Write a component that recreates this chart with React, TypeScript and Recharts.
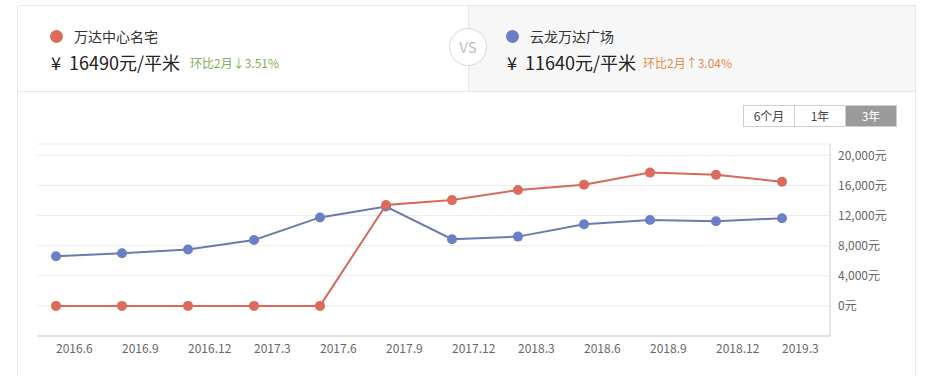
import { CartesianGrid, Line, LineChart, XAxis, YAxis } from "recharts";

const months = [
  "2016.6", "2016.9", "2016.12", "2017.3", "2017.6", "2017.9",
  "2017.12", "2018.3", "2018.6", "2018.9", "2018.12", "2019.3",
];
const wandaMingzhai = [0, 0, 0, 0, 0, 13400, 14050, 15400, 16100, 17700, 17400, 16490];
const yunlongWanda = [6600, 7000, 7500, 8750, 11750, 13200, 8850, 9200, 10850, 11400, 11250, 11640];
const yTicks = [0, 4000, 8000, 12000, 16000, 20000];
const ranges = ["6个月", "1年", "3年"];

const RED = "#dc6b5b";
const BLUE = "#6a80c6";
const FONT = '"Noto Sans CJK SC", "Microsoft YaHei", sans-serif';

const data = months.map((m, i) => ({
  month: m,
  a: wandaMingzhai[i],
  b: yunlongWanda[i],
}));

function fmtYuan(v: number): string {
  return `${String(v).replace(/\B(?=(\d{3})+(?!\d))/g, ",")}元`;
}

function XTick(props: any) {
  const { x, y, payload } = props;
  return (
    <text x={x} y={y} dy="0.71em" textAnchor="start" fill="#666" fontSize={12} fontFamily={FONT}>
      {payload.value}
    </text>
  );
}

function Header() {
  return (
    <>
      {/* right half grey */}
      <div
        style={{
          position: "absolute", left: 468, top: 5, width: 447, height: 86,
          background: "#f7f7f8", borderLeft: "1px solid #e8e8e8",
        }}
      />
      <div style={{ position: "absolute", left: 17, top: 5, width: 898, height: 0, borderTop: "1px solid #e8e8e8" }} />
      <div style={{ position: "absolute", left: 17, top: 91, width: 898, height: 0, borderTop: "1px solid #e8e8e8" }} />
      <div style={{ position: "absolute", left: 17, top: 5, width: 0, height: 371, borderLeft: "1px solid #e8e8e8" }} />
      <div style={{ position: "absolute", left: 915, top: 5, width: 0, height: 371, borderLeft: "1px solid #e8e8e8" }} />

      <Item left={49} dot={RED} name="万达中心名宅" price="16490" change="环比2月↓3.51%" changeColor="#86ad55" changeLeft={190} />
      <Item left={505} dot={BLUE} name="云龙万达广场" price="11640" change="环比2月↑3.04%" changeColor="#e38a4e" changeLeft={643} />

      <div
        style={{
          position: "absolute", left: 449, top: 28, width: 36, height: 36, borderRadius: "50%",
          border: "1px solid #d8d8d8", background: "#fff", color: "#c0c0c0",
          fontFamily: FONT, fontSize: 15, lineHeight: "36px", textAlign: "center",
        }}
      >
        VS
      </div>
    </>
  );
}

function Item(props: {
  left: number; dot: string; name: string; price: string;
  change: string; changeColor: string; changeLeft: number;
}) {
  const { left, dot, name, price, change, changeColor, changeLeft } = props;
  return (
    <>
      <div
        style={{
          position: "absolute", left: left + 1, top: 30, width: 13, height: 13,
          borderRadius: "50%", background: dot,
        }}
      />
      <div
        style={{
          position: "absolute", left: left + 25, top: 26, fontSize: 14, lineHeight: "20px",
          color: "#333", fontFamily: FONT, whiteSpace: "nowrap",
        }}
      >
        {name}
      </div>
      <div
        style={{
          position: "absolute", left: left + 2, top: 50, fontSize: 18, lineHeight: "24px",
          color: "#222", fontFamily: FONT, whiteSpace: "pre",
        }}
      >
        {`¥  ${price}元/平米`}
      </div>
      <div
        style={{
          position: "absolute", left: changeLeft, top: 55, fontSize: 12, lineHeight: "16px",
          color: changeColor, fontFamily: FONT, whiteSpace: "nowrap",
        }}
      >
        {change}
      </div>
    </>
  );
}

function RangeButtons() {
  return (
    <div
      style={{
        position: "absolute", left: 743, top: 105, display: "flex",
        border: "1px solid #cfcfcf", fontFamily: FONT, fontSize: 12,
      }}
    >
      {ranges.map((r, i) => {
        const active = r === "3年";
        return (
          <div
            key={r}
            style={{
              width: 50, height: 20, lineHeight: "20px", textAlign: "center",
              borderLeft: i > 0 ? "1px solid #cfcfcf" : "none",
              background: active ? "#9a9a9a" : "#fff",
              color: active ? "#fff" : "#444",
            }}
          >
            {r}
          </div>
        );
      })}
    </div>
  );
}

export default function App() {
  return (
    <div
      style={{
        position: "fixed", left: 0, top: 0, width: 925, height: 376,
        background: "#fff", overflow: "hidden",
      }}
    >
      <Header />
      <RangeButtons />
      <div style={{ position: "absolute", left: 0, top: 0 }}>
        <LineChart
          width={925}
          height={376}
          data={data}
          margin={{ top: 144, right: 0, bottom: 0, left: 37 }}
        >
          <CartesianGrid horizontal vertical={false} stroke="#ececec" />
          <XAxis
            dataKey="month"
            padding={{ left: 19, right: 48 }}
            height={40}
            tickLine={false}
            axisLine={{ stroke: "#cfcfcf" }}
            tick={<XTick />}
            interval={0}
          />
          <YAxis
            orientation="right"
            width={95}
            domain={[-4000, 21500]}
            ticks={yTicks}
            tickFormatter={fmtYuan}
            tickLine={false}
            axisLine={{ stroke: "#cfcfcf" }}
            tick={{ fill: "#666", fontSize: 12, fontFamily: FONT }}
            textAnchor="start"
          />
          <Line
            type="linear"
            dataKey="b"
            stroke="#6b7aae"
            strokeWidth={2}
            dot={{ r: 5, fill: BLUE, stroke: BLUE, strokeWidth: 0 }}
            isAnimationActive={false}
          />
          <Line
            type="linear"
            dataKey="a"
            stroke="#d46a5e"
            strokeWidth={2}
            dot={{ r: 5, fill: RED, stroke: RED, strokeWidth: 0 }}
            isAnimationActive={false}
          />
        </LineChart>
      </div>
    </div>
  );
}
